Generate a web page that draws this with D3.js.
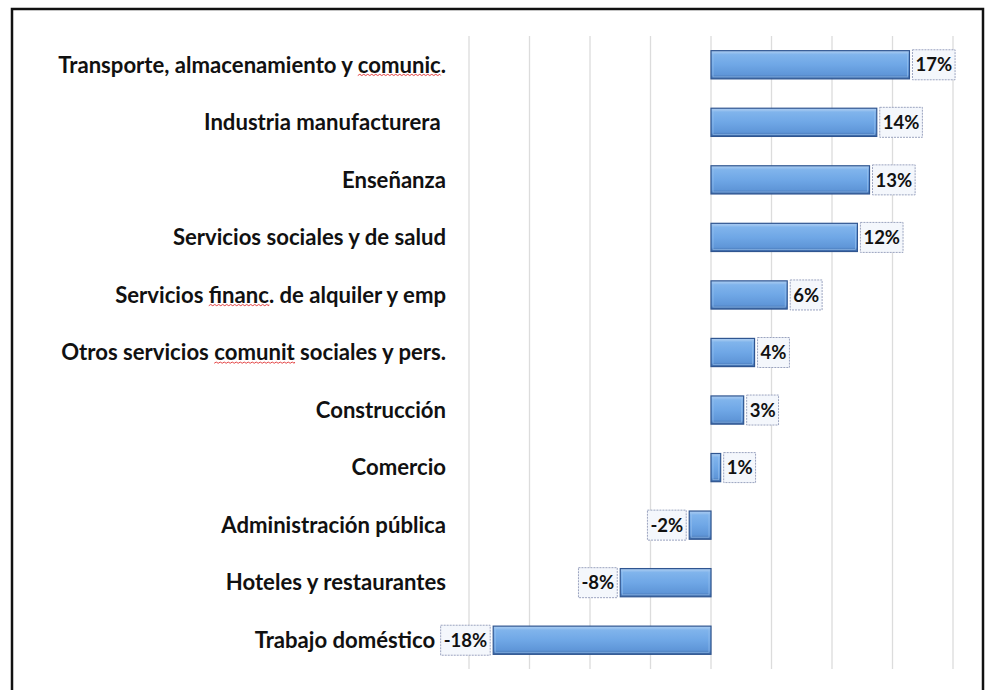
<!DOCTYPE html>
<html>
<head>
<meta charset="utf-8">
<script src="https://cdn.jsdelivr.net/npm/d3@7"></script>
<style>
  html, body { margin: 0; padding: 0; background: #ffffff; }
  svg { display: block; }
  .cat { white-space: pre; }
</style>
</head>
<body>
<svg id="chart" width="987" height="690"></svg>
<script>
// ---- data ----
const categories = [
  "Transporte, almacenamiento y comunic.",
  "Industria manufacturera ",
  "Enseñanza",
  "Servicios sociales y de salud",
  "Servicios financ. de alquiler y emp",
  "Otros servicios comunit sociales y pers.",
  "Construcción",
  "Comercio",
  "Administración pública",
  "Hoteles y restaurantes",
  "Trabajo doméstico  "
];
const values = [16.4, 13.7, 13.1, 12.1, 6.3, 3.6, 2.7, 0.8, -1.8, -7.5, -18.0];
const valueLabels = ["17%", "14%", "13%", "12%", "6%", "4%", "3%", "1%", "-2%", "-8%", "-18%"];
const gridTicks = [-20, -15, -10, -5, 0, 5, 10, 15, 20];
// words underlined by the spell checker in the original
const squiggleWords = ["comunic", "financ", "comunit"];

// ---- layout ----
const svg = d3.select("#chart");
const plot = { left: 469, right: 953, top: 36, bottom: 669 };
const labelRight = 446;
const FONT = "Lato, 'Open Sans', 'DejaVu Sans', sans-serif";

const x = d3.scaleLinear().domain([-20, 20]).range([plot.left, plot.right]);
const y = d3.scaleBand().domain(categories).range([plot.top, plot.bottom])
  .paddingInner(0.51).paddingOuter(0.255);

// frame
svg.append("rect")
  .attr("x", 12).attr("y", 9).attr("width", 971).attr("height", 700)
  .attr("fill", "none").attr("stroke", "#111").attr("stroke-width", 2.5);

// gradient for bars
const defs = svg.append("defs");
const grad = defs.append("linearGradient").attr("id", "barGrad")
  .attr("x1", 0).attr("y1", 0).attr("x2", 0).attr("y2", 1);
[["0%", "#b0cff2"], ["14%", "#80b4ec"], ["50%", "#6fa7e6"], ["85%", "#5f96d8"], ["100%", "#3b66a3"]]
  .forEach(([o, c]) => grad.append("stop").attr("offset", o).attr("stop-color", c));

// gridlines
svg.append("g").selectAll("line").data(gridTicks).join("line")
  .attr("x1", d => x(d)).attr("x2", d => x(d))
  .attr("y1", plot.top).attr("y2", plot.bottom)
  .attr("stroke", "#dcdcdc").attr("stroke-width", 1.3);

// bars
const bars = svg.append("g");
categories.forEach((c, i) => {
  const v = values[i];
  const x0 = x(Math.min(0, v)), x1 = x(Math.max(0, v));
  const yy = y(c), h = y.bandwidth();
  bars.append("rect")
    .attr("x", x0).attr("y", yy).attr("width", x1 - x0).attr("height", h)
    .attr("fill", "url(#barGrad)").attr("stroke", "#2f5590").attr("stroke-width", 1.2);
  bars.append("rect")
    .attr("x", x0 + 2).attr("y", yy + 2).attr("width", Math.max(0, x1 - x0 - 4)).attr("height", h - 4)
    .attr("fill", "none").attr("stroke", "#9cc4ef").attr("stroke-width", 0.8).attr("opacity", 0.7);
});

// value labels
const vl = svg.append("g").attr("font-family", FONT).attr("font-weight", "bold").attr("font-size", 18.5);
categories.forEach((c, i) => {
  const v = values[i];
  const cy = y(c) + y.bandwidth() / 2;
  const g = vl.append("g");
  const t = g.append("text").text(valueLabels[i]).attr("y", cy).attr("dy", "0.36em").attr("fill", "#111");
  const w = t.node().getComputedTextLength();
  const pad = 3;
  const bw = w + 2 * pad, bh = 30;
  const bx = v >= 0 ? x(v) + 3 : x(v) - 3 - bw;
  g.insert("rect", "text")
    .attr("x", bx).attr("y", cy - bh / 2).attr("width", bw).attr("height", bh)
    .attr("fill", "#f4f7fc").attr("stroke", "#9aa3bf").attr("stroke-width", 1)
    .attr("stroke-dasharray", "2,1");
  t.attr("x", bx + pad);
});

// category labels
const cl = svg.append("g").attr("font-family", FONT).attr("font-weight", "bold")
  .attr("text-anchor", "end").attr("fill", "#111");
const labels = categories.map(c => cl.append("text").attr("class", "cat").text(c)
  .attr("x", labelRight).attr("y", y(c) + y.bandwidth() / 2).attr("dy", "0.35em").attr("font-size", 17));
const longest = d3.max(labels, t => t.node().getComputedTextLength());
const fs = 17 * 388 / longest;
labels.forEach(t => t.attr("font-size", fs));

// spell-check squiggles
labels.forEach((t, i) => {
  const txt = categories[i];
  squiggleWords.forEach(wd => {
    const k = txt.indexOf(wd);
    if (k < 0) return;
    const node = t.node();
    const sx = node.getStartPositionOfChar(k).x;
    const ex = node.getEndPositionOfChar(k + wd.length - 1).x;
    const by = y(categories[i]) + y.bandwidth() / 2 + fs * 0.35 + 3;
    let d = `M${sx},${by}`;
    for (let px = sx, up = true; px < ex; px += 2, up = !up) {
      d += ` L${Math.min(px + 2, ex)},${by + (up ? -1.2 : 0)}`;
    }
    svg.append("path").attr("d", d).attr("fill", "none").attr("stroke", "#e03030").attr("stroke-width", 0.9);
  });
});
</script>
</body>
</html>
